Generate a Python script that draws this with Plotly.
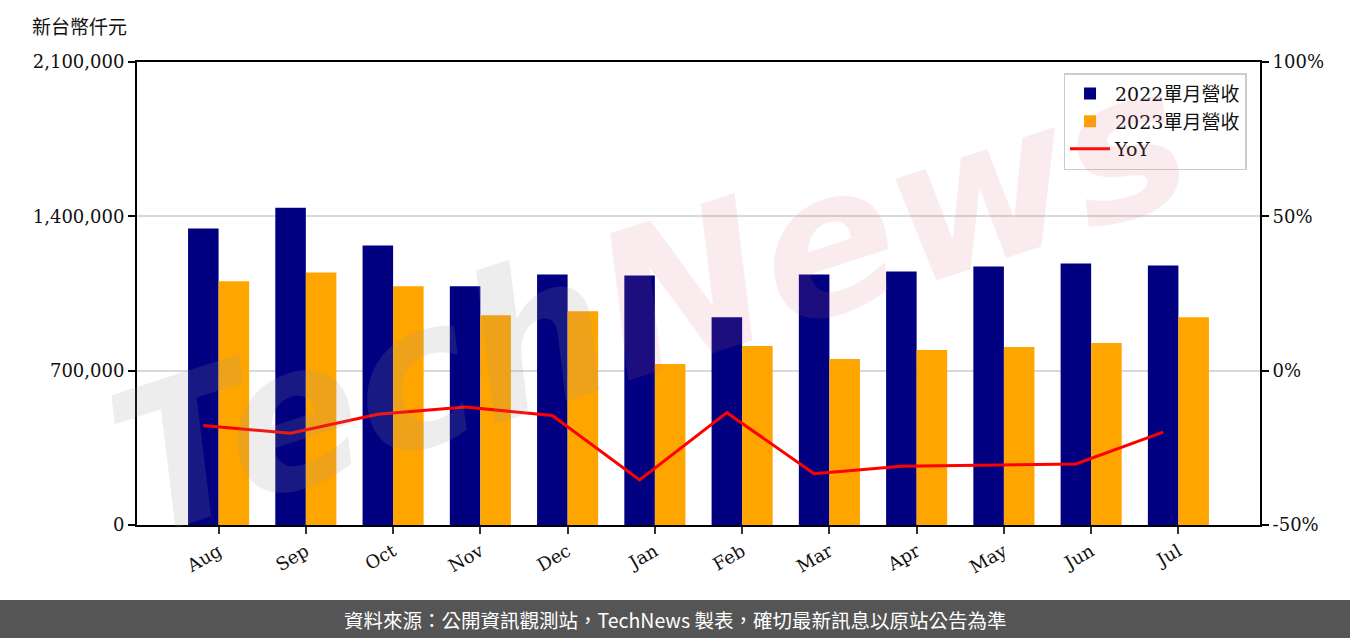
import numpy as np
import plotly.graph_objects as go

months = ["Aug", "Sep", "Oct", "Nov", "Dec", "Jan", "Feb", "Mar", "Apr", "May", "Jun", "Jul"]
rev_2022 = [1344400, 1439200, 1267600, 1082500, 1136700, 1132200, 942500, 1136700, 1150200, 1172800, 1186300, 1177300]
rev_2023 = [1105100, 1145700, 1082500, 951500, 969600, 730200, 811500, 752800, 793500, 807000, 825100, 942500]
yoy = [-17.8, -20.3, -14.1, -11.8, -14.5, -35.4, -13.6, -33.4, -31.0, -30.7, -30.2, -19.9]

left_ticks = [0, 700000, 1400000, 2100000]
right_ticks = [-50, 0, 50, 100]
right_labels = ["-50%", "0%", "50%", "100%"]

W, H = 1350, 638
L, R, T, B = 137, 90, 62, 113
pw, ph = W - L - R, H - T - B

idx = np.arange(len(months))
bw = 0.35
serif = "DejaVu Serif, Noto Sans CJK TC"

fig = go.Figure()
fig.add_trace(go.Bar(x=idx, y=rev_2022, width=bw, offset=-bw, marker=dict(color="#000080", line=dict(width=0)),
                     name="2022單月營收"))
fig.add_trace(go.Bar(x=idx, y=rev_2023, width=bw, offset=0, marker=dict(color="#FFA500", line=dict(width=0)),
                     name="2023單月營收"))
fig.add_trace(go.Scatter(x=idx - bw / 2, y=yoy, mode="lines", line=dict(color="#FF0000", width=3),
                         name="YoY", yaxis="y2"))

def px_x(p):
    return (p - L) / pw

def px_y(p):
    return (H - B - p) / ph

fig.update_layout(
    width=W, height=H,
    margin=dict(l=L, r=R, t=T, b=B, pad=0),
    paper_bgcolor="white", plot_bgcolor="white",
    barmode="overlay",
    font=dict(family=serif, size=18, color="#111111"),
    showlegend=True,
    legend=dict(x=0.988, xanchor="right", y=0.976, yanchor="top",
                bordercolor="#cccccc", borderwidth=1.5, bgcolor="rgba(255,255,255,0.85)",
                font=dict(family=serif, size=19, color="#111111"), tracegroupgap=6,
                itemwidth=40),
    xaxis=dict(range=[-0.935, 11.935], tickmode="array", tickvals=idx, ticktext=months,
               tickangle=-30, ticks="outside", ticklen=7, tickwidth=1.5, tickcolor="#333333",
               showline=True, linecolor="black", linewidth=2, mirror=True,
               showgrid=False, zeroline=False, tickfont=dict(family=serif, size=18)),
    yaxis=dict(range=[0, 2100000], tickmode="array", tickvals=left_ticks, tickformat=",",
               ticks="outside", ticklen=7, tickwidth=1.5, tickcolor="black",
               showline=True, linecolor="black", linewidth=2, mirror=True,
               showgrid=True, gridcolor="#d9d9d9", gridwidth=1.5, zeroline=False,
               tickfont=dict(family=serif, size=18)),
    yaxis2=dict(range=[-50, 100], overlaying="y", side="right", tickmode="array",
                tickvals=right_ticks, ticktext=right_labels, ticks="outside", ticklen=7, tickwidth=1.5,
                tickcolor="black", showline=True, linecolor="black", linewidth=2,
                showgrid=False, zeroline=False, tickfont=dict(family=serif, size=18)),
)

# watermark
fig.add_annotation(xref="paper", yref="paper", x=px_x(650), y=px_y(300),
                   text="<i><b><span style='color:rgba(150,150,150,0.17)'>Tech</span>"
                        "<span style='color:rgba(220,110,120,0.13)'>News</span></b></i>",
                   showarrow=False, textangle=-18,
                   font=dict(family="DejaVu Sans", size=200), xanchor="center", yanchor="middle")

# unit label
fig.add_annotation(xref="paper", yref="paper", x=px_x(30), y=px_y(27), text="新台幣仟元",
                   showarrow=False, xanchor="left", yanchor="middle",
                   font=dict(family=serif, size=19, color="#111111"))

# footer banner
fig.add_shape(type="rect", xref="paper", yref="paper", x0=px_x(0), x1=px_x(W), y0=px_y(638), y1=px_y(600),
              fillcolor="#555555", line=dict(width=0), layer="above")
fig.add_annotation(xref="paper", yref="paper", x=px_x(675), y=px_y(619),
                   text="資料來源：公開資訊觀測站，TechNews 製表，確切最新訊息以原站公告為準",
                   showarrow=False, xanchor="center", yanchor="middle",
                   font=dict(family="Noto Sans CJK TC", size=19.5, color="white"))

fig.write_html("out.html", config={"displayModeBar": False},
               post_script="document.body.style.margin='0';document.body.style.padding='0';document.body.style.overflow='hidden';")
